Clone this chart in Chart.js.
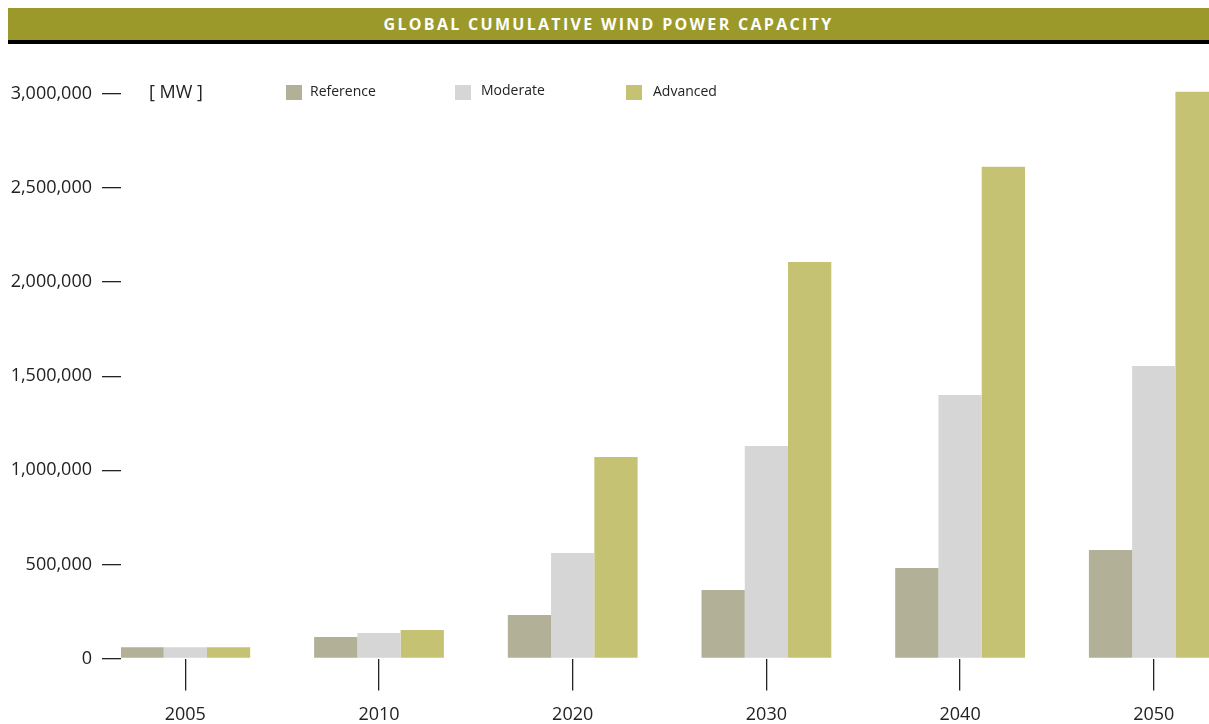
<!DOCTYPE html>
<html>
<head>
<meta charset="utf-8">
<title>Global cumulative wind power capacity</title>
<script src="https://cdn.jsdelivr.net/npm/chart.js@4.4.0/dist/chart.umd.min.js"></script>
<style>
  html, body { margin: 0; padding: 0; background: #fff; overflow: hidden; }
  #wrap { position: relative; width: 1209px; height: 724px; font-family: 'Open Sans', sans-serif; color: #222; }
  #chart { position: absolute; left: 0; top: 0; }
  .title-bar {
    position: absolute; left: 8px; top: 8px; width: 1201px; height: 32px;
    background: #9b992a; border-bottom: 4px solid #000;
    color: #fff; font-weight: 700; font-size: 16px; letter-spacing: 2.3px;
    text-align: center; line-height: 32px;
  }
  .unit { position: absolute; left: 149px; top: 79px; font-size: 18px; line-height: 24px; }
  .swatch { position: absolute; top: 85px; width: 16px; height: 15px; }
  .legend-text { position: absolute; top: 81px; font-size: 14px; line-height: 20px; }
</style>
</head>
<body>
<div id="wrap">
  <canvas id="chart" width="1209" height="724"></canvas>
  <div class="title-bar">GLOBAL CUMULATIVE WIND POWER CAPACITY</div>
  <div class="unit">[ MW ]</div>
  <div class="swatch" style="left:286px; background:#b2b197;"></div>
  <div class="legend-text" style="left:310px;">Reference</div>
  <div class="swatch" style="left:455px; background:#d6d6d6;"></div>
  <div class="legend-text" style="left:481px; top:80px;">Moderate</div>
  <div class="swatch" style="left:626px; background:#c5c274;"></div>
  <div class="legend-text" style="left:653px;">Advanced</div>
</div>
<script>
// values, MW
const years = ['2005', '2010', '2020', '2030', '2040', '2050'];
const referenceMW = [60000, 114000, 231000, 364000, 481000, 577000];
const moderateMW = [60000, 135000, 561000, 1129000, 1400000, 1554000];
const advancedMW = [60000, 151000, 1071000, 2107000, 2612000, 3011000];
const yTicks = [0, 500000, 1000000, 1500000, 2000000, 2500000, 3000000];

Chart.defaults.font.family = "'Open Sans', sans-serif";
Chart.defaults.color = '#222';

// bars sit on a linear x axis (index per year) so the groups can run off the right edge
function toPoints(values) {
    return values.map(function(v, i) { return { x: i, y: v }; });
}

function barSet(label, values, color) {
    return {
        label: label,
        data: toPoints(values),
        backgroundColor: color,
        borderWidth: 0,
        categoryPercentage: 0.67,
        barPercentage: 1
    };
}

new Chart(document.getElementById('chart'), {
    type: 'bar',
    data: {
        datasets: [
            barSet('Reference', referenceMW, '#b2b197'),
            barSet('Moderate', moderateMW, '#d6d6d6'),
            barSet('Advanced', advancedMW, '#c5c274')
        ]
    },
    options: {
        responsive: false,
        animation: false,
        devicePixelRatio: 1,
        layout: { padding: { top: 75, right: 0, bottom: 0, left: 0 } },
        plugins: {
            legend: { display: false },
            tooltip: { enabled: false }
        },
        scales: {
            x: {
                type: 'linear',
                min: -0.332,
                max: 5.285,
                offset: false,
                afterBuildTicks: function(scale) {
                    scale.ticks = years.map(function(y, i) { return { value: i }; });
                },
                afterFit: function(scale) { scale.height = 65.5; },
                grid: {
                    display: true,
                    offset: false,
                    drawOnChartArea: false,
                    drawTicks: true,
                    tickLength: 32,
                    color: '#222',
                    lineWidth: 1.3
                },
                border: { display: false },
                ticks: {
                    padding: 14,
                    color: '#222',
                    font: { size: 18 },
                    maxRotation: 0,
                    autoSkip: false,
                    callback: function(v) { return years[v]; }
                }
            },
            y: {
                min: 0,
                max: 3100000,
                afterBuildTicks: function(scale) {
                    scale.ticks = yTicks.map(function(v) { return { value: v }; });
                },
                afterFit: function(scale) { scale.width = 121; },
                grid: {
                    drawOnChartArea: false,
                    drawTicks: true,
                    tickLength: 19,
                    color: '#222',
                    lineWidth: 1.3
                },
                border: { display: false },
                ticks: {
                    padding: 10,
                    color: '#222',
                    font: { size: 18 },
                    callback: function(v) { return v.toLocaleString('en-US'); }
                }
            }
        }
    }
});
</script>
</body>
</html>
